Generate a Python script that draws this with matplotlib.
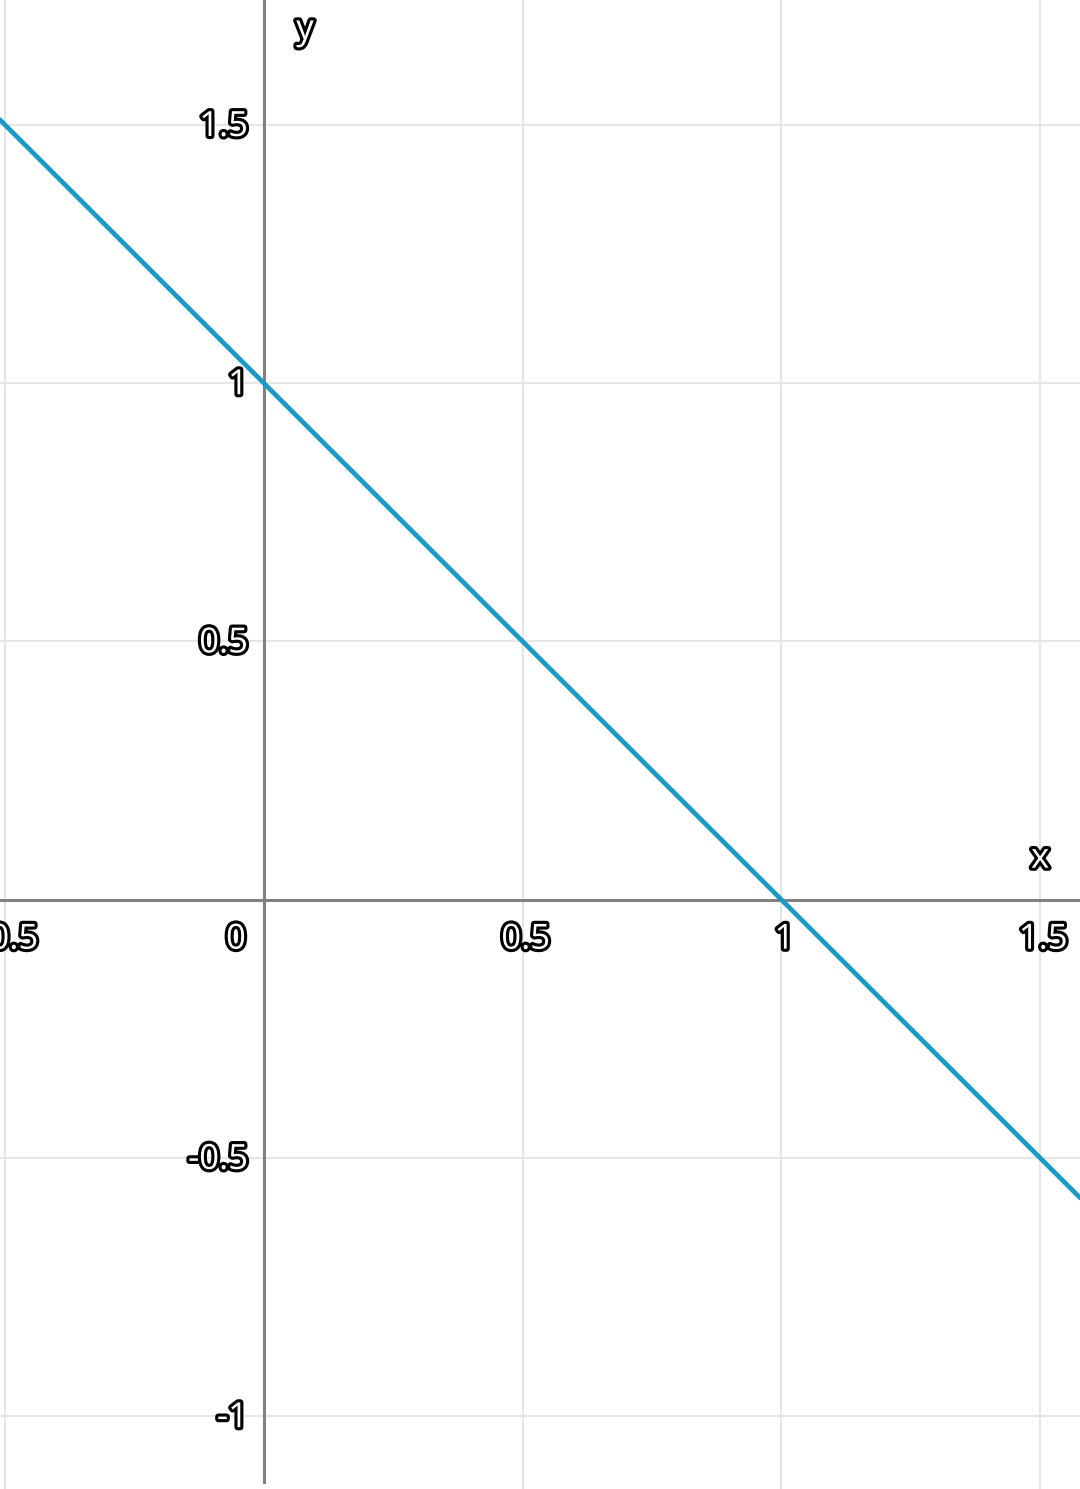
import matplotlib
matplotlib.use("Agg")
import matplotlib.pyplot as plt
import matplotlib.patheffects as pe

line_x = [-0.6, 1.7]
line_y = [1.6, -0.7]
x_ticks = [-0.5, 0, 0.5, 1, 1.5]
x_tick_labels = ["-0.5", "0", "0.5", "1", "1.5"]
y_ticks = [-1, -0.5, 0.5, 1, 1.5]
y_tick_labels = ["-1", "-0.5", "0.5", "1", "1.5"]

plt.rcParams['font.family'] = ['Open Sans', 'DejaVu Sans']

fig = plt.figure(figsize=(10.8, 14.89), dpi=100)
ax = fig.add_axes([0, 0, 1, 1])
ax.set_xlim(-0.51, 1.577)
ax.set_ylim(-1.141, 1.742)
for s in ax.spines.values():
    s.set_visible(False)
ax.set_xticks([])
ax.set_yticks([])

grid_c = '#e6e6e6'
for xv in x_ticks:
    if xv != 0:
        ax.axvline(xv, color=grid_c, lw=1.5, zorder=1)
for yv in y_ticks:
    ax.axhline(yv, color=grid_c, lw=1.5, zorder=1)

ax.axhline(0, color='#808080', lw=2.2, zorder=2)
ax.plot([0, 0], [-1.127, 1.742], color='#808080', lw=2.2, zorder=2)

ax.plot(line_x, line_y, color='#1a9ac6', lw=3.4, zorder=3, solid_capstyle='butt')

eff = [pe.withStroke(linewidth=4.5, foreground='black')]
tkw = dict(color='white', fontsize=25, path_effects=eff, zorder=5)

for xv, lab in zip(x_ticks, x_tick_labels):
    if xv == 0:
        ax.annotate(lab, (0, 0), xytext=(-28, -40), textcoords='offset pixels',
                    ha='center', va='center', **tkw)
    else:
        ax.annotate(lab, (xv, 0), xytext=(3, -40), textcoords='offset pixels',
                    ha='center', va='center', **tkw)
for yv, lab in zip(y_ticks, y_tick_labels):
    ax.annotate(lab, (0, yv), xytext=(-16, -2), textcoords='offset pixels',
                ha='right', va='center', **tkw)

ax.annotate('x', (1.5, 0), xytext=(0, 41), textcoords='offset pixels',
            ha='center', va='center', **tkw)
ax.annotate('y', (0, 1.742), xytext=(41, -30), textcoords='offset pixels',
            ha='center', va='center', **tkw)

fig.savefig('out.png', dpi=100)
